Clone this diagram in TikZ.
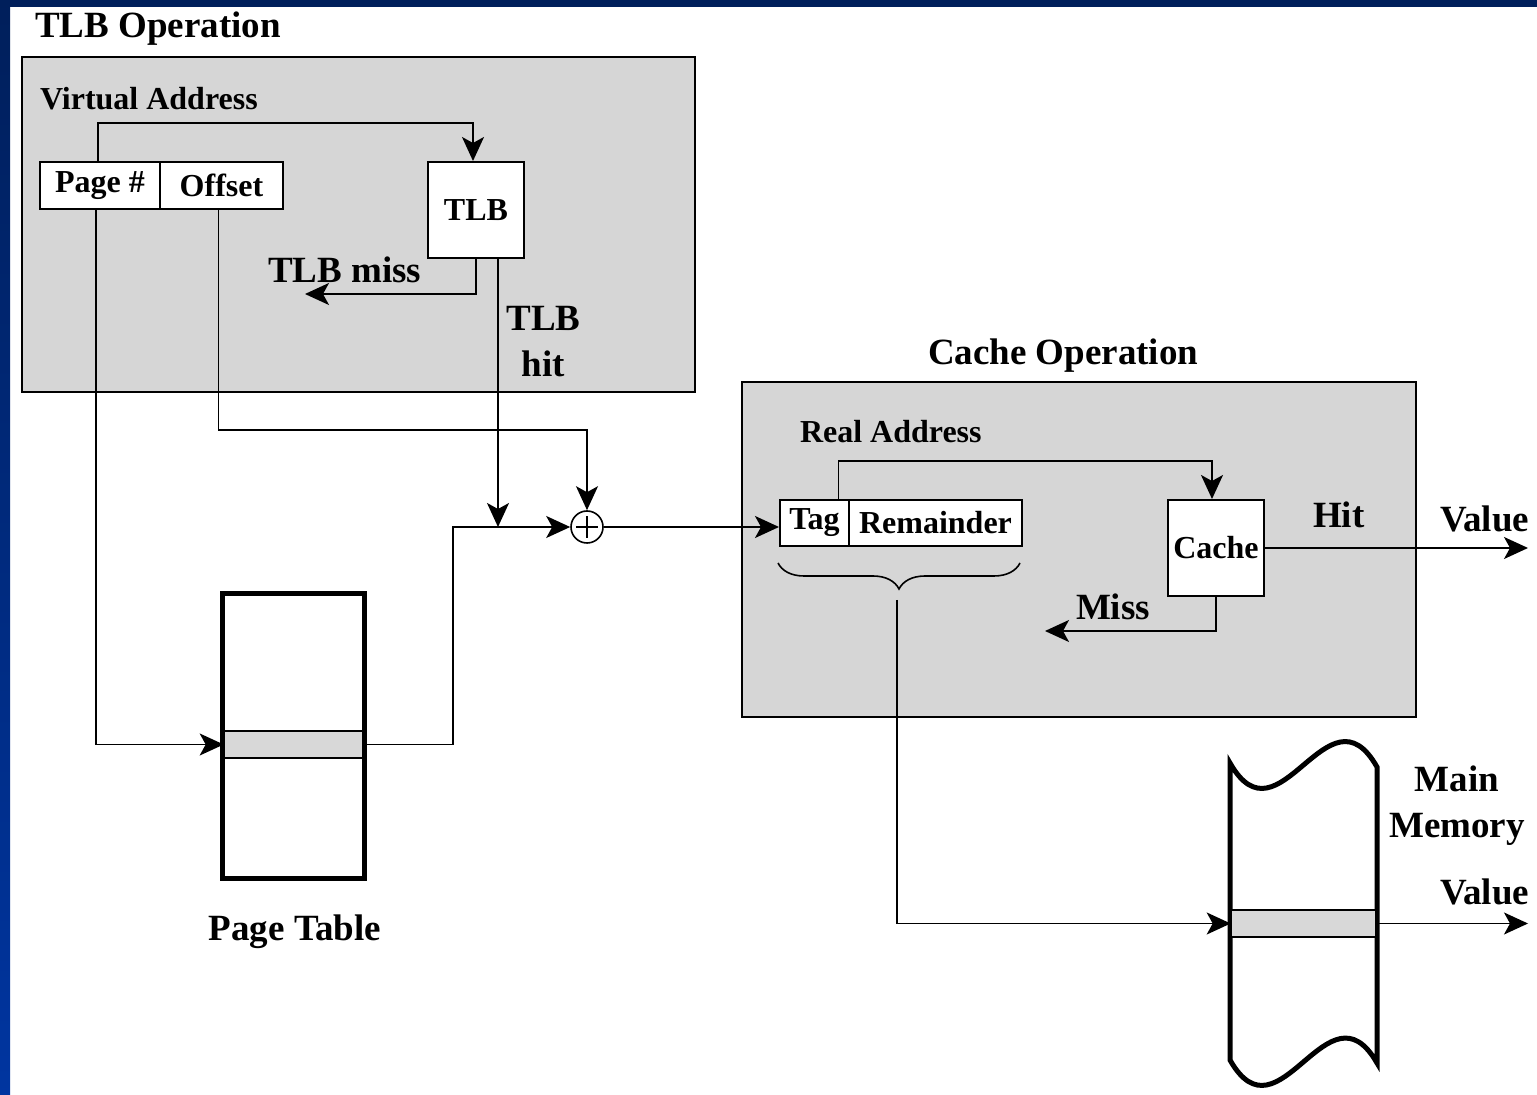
\documentclass[tikz,border=0pt]{standalone}
\usepackage{fontspec}
\setmainfont{Liberation Serif}
\usepackage{tikz}
\usetikzlibrary{positioning,calc,arrows.meta,decorations.pathreplacing}
\definecolor{navytop}{HTML}{001F5B}
\definecolor{navybot}{HTML}{0035A0}
\definecolor{opgray}{HTML}{D6D6D6}
\definecolor{rowgray}{HTML}{D8D8D8}
\tikzset{
  opbox/.style    = {draw=black, fill=opgray, line width=1pt},
  field/.style    = {draw=black, fill=white, line width=1pt, inner sep=0pt, font=\fontsize{16}{19}\selectfont\bfseries},
  rowbar/.style   = {draw=black, fill=rowgray, line width=0.8pt, inner sep=0pt, minimum height=13.5pt},
  memline/.style  = {draw=black, line width=2.5pt},
  biglab/.style   = {font=\fontsize{18.5}{23}\selectfont\bfseries, inner sep=0pt, outer sep=0pt},
  smalllab/.style = {font=\fontsize{16}{19}\selectfont\bfseries, inner sep=0pt, outer sep=0pt},
  flow/.style     = {-{Stealth[length=12pt,width=11pt,inset=3pt]}, draw=black, line width=0.9pt},
  brace/.style    = {decorate, decoration={brace,amplitude=13pt}, line width=0.8pt},
}
\begin{document}
\begin{tikzpicture}[x=0.5pt,y=-0.5pt]
\path[use as bounding box] (0,0) rectangle (1537,1095);

% ---- frame --------------------------------------------------------------
\fill[white] (0,0) rectangle (1537,1095);
\fill[navytop] (0,0) rectangle (1537,7);
\shade[top color=navytop, bottom color=navybot] (0,0) rectangle (10,1095);

% ---- TLB operation ------------------------------------------------------
\node[biglab, anchor=base west] (tlbtitle) at (35,38) {TLB Operation};
\draw[opbox] (22,57) rectangle (695,392);
\node[smalllab, anchor=base west] (vatitle) at (40,110) {Virtual Address};

\node[field, minimum width=60pt, minimum height=23.5pt] (page) at (100,185.5) {Page \#};
\node[field, minimum width=61.5pt, minimum height=23.5pt] (offset) at (221.5,185.5) {Offset};
\node[field, minimum width=48pt, minimum height=48pt] (tlb) at (476,210) {TLB};

\node[biglab, anchor=base west] (misslab) at (268,283) {TLB miss};
\node[biglab, align=center, anchor=base] (hitlab) at (543.5,377) {TLB\\hit};

\coordinate (tlbmiss) at (305,294);
\coordinate (hitjoin) at (498,527);
\draw[flow] ([xshift=-1pt]page.north) -- ++(0,-38) -| ([xshift=-1.5pt]tlb.north);
\draw[flow] (tlb.south) |- (tlbmiss);
\draw[flow] (tlb.south -| hitjoin) -- (hitjoin);

% ---- page table ---------------------------------------------------------
\node[memline, fill=white, minimum width=71pt, minimum height=142.5pt] (ptab) at (293.5,736) {};
\node[rowbar, minimum width=69pt] (ptrow) at (293.5,744.5) {};
\node[biglab, anchor=base] (ptlab) at (295,940) {Page Table};

% ---- adder --------------------------------------------------------------
\node[draw, circle, fill=white, line width=0.8pt, minimum size=16pt, inner sep=0pt] (sum) at (587,527) {};
\draw[line width=1.2pt] ([xshift=-5.5pt]sum.center) -- ([xshift=5.5pt]sum.center)
                        ([yshift=-5.5pt]sum.center) -- ([yshift=5.5pt]sum.center);
\draw[flow] ([xshift=-1.5pt]offset.south) -- ++(0,220) -| (sum.north);
\draw[flow] ([xshift=-2pt]page.south) |- (ptrow.west);
\draw[flow] (ptrow.east) -- ++(90,0) |- (sum.west);

% ---- cache operation ----------------------------------------------------
\node[biglab, anchor=base west] (cachetitle) at (928,365) {Cache Operation};
\draw[opbox] (742,382) rectangle (1416,717);
\node[smalllab, anchor=base west] (ratitle) at (800,443) {Real Address};

\node[field, minimum width=34.5pt, minimum height=23pt] (tag) at (814.5,523) {Tag};
\node[field, minimum width=86.5pt, minimum height=23pt] (rem) at (935.5,523) {Remainder};
\node[field, minimum width=48pt, minimum height=48pt] (cache) at (1216,548) {Cache};

\node[biglab, anchor=base west] (hitword) at (1313,528) {Hit};
\node[biglab, anchor=base west] (hitvalue) at (1440,532) {Value};
\node[biglab, anchor=base west] (missword) at (1076,620) {Miss};

\coordinate (hitval) at (1528,548);
\coordinate (missend) at (1045,631);
\draw[flow] (sum.east) -- (sum.east -| tag.west);
\draw[flow] ([xshift=12pt]tag.north) -- ++(0,-38) -| ([xshift=-2pt]cache.north);
\draw[flow] (cache.east) -- (hitval);
\draw[flow] (cache.south) |- (missend);

\draw[brace] (1020,563) -- (778,563);
\coordinate (brtip) at (897,600);

% ---- main memory --------------------------------------------------------
\draw[memline, fill=white] (1230,763) -- (1230,1060)
  .. controls (1279,1146.5) and (1328,977.5) .. (1377,1063) -- (1377,767)
  .. controls (1328,680.5) and (1279,849.5) .. (1230,763) -- cycle;
\node[rowbar, minimum width=72pt] (mmrow) at (1303.5,923.5) {};
\node[biglab, align=center, anchor=base] (mmlab) at (1457,838) {Main\\Memory};
\node[biglab, anchor=base west] (memvalue) at (1440,905) {Value};

\coordinate (memval) at (1528,922);
\draw[flow] (brtip) |- (mmrow.west);
\draw[flow] (mmrow.east) -- (mmrow.east -| memval);

\end{tikzpicture}
\end{document}
